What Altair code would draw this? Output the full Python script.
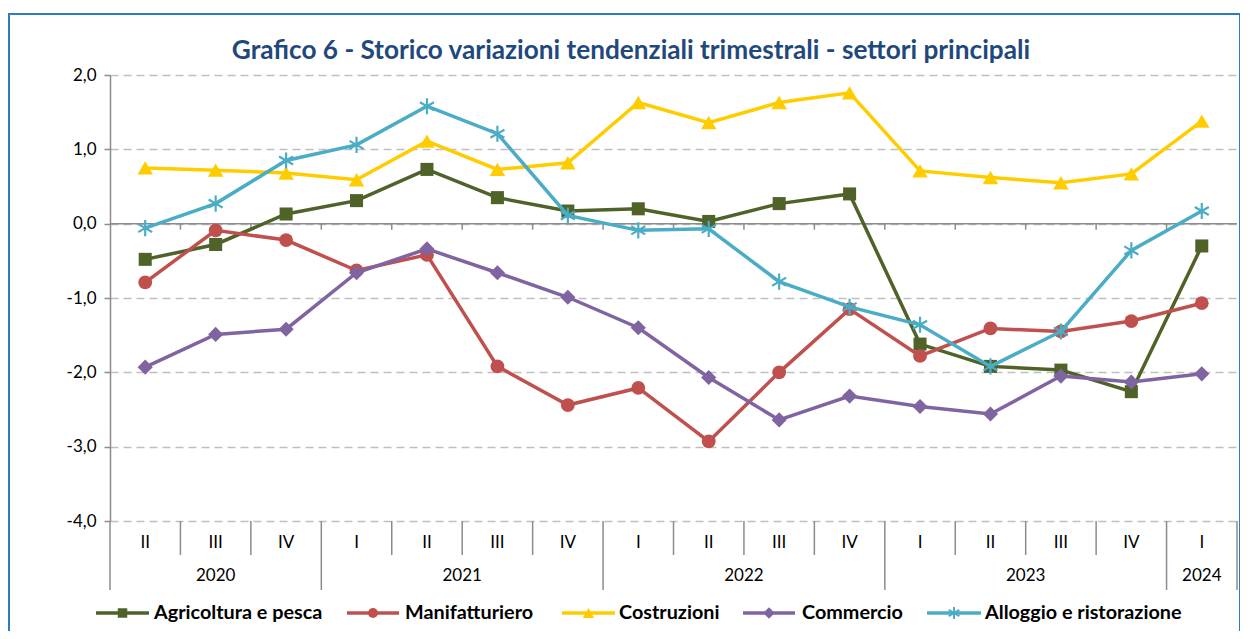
import altair as alt
import pandas as pd

# ---------------- data ----------------
quarters = ["II", "III", "IV", "I", "II", "III", "IV", "I", "II", "III", "IV", "I", "II", "III", "IV", "I"]
years = [2020, 2020, 2020, 2021, 2021, 2021, 2021, 2022, 2022, 2022, 2022, 2023, 2023, 2023, 2023, 2024]

series_names = ["Agricoltura e pesca", "Manifatturiero", "Costruzioni", "Commercio", "Alloggio e ristorazione"]
agricoltura = [-0.48, -0.28, 0.13, 0.31, 0.73, 0.35, 0.17, 0.20, 0.03, 0.27, 0.40, -1.62, -1.92, -1.97, -2.26, -0.30]
manifatturiero = [-0.79, -0.09, -0.22, -0.63, -0.42, -1.92, -2.44, -2.21, -2.93, -2.00, -1.15, -1.78, -1.41, -1.45, -1.31, -1.07]
costruzioni = [0.75, 0.72, 0.68, 0.59, 1.11, 0.73, 0.82, 1.63, 1.36, 1.63, 1.76, 0.71, 0.62, 0.55, 0.67, 1.38]
commercio = [-1.93, -1.49, -1.42, -0.66, -0.34, -0.66, -0.99, -1.40, -2.07, -2.64, -2.32, -2.46, -2.56, -2.05, -2.13, -2.02]
alloggio = [-0.06, 0.27, 0.85, 1.06, 1.58, 1.21, 0.11, -0.09, -0.07, -0.78, -1.12, -1.36, -1.92, -1.45, -0.36, 0.17]
series_values = [agricoltura, manifatturiero, costruzioni, commercio, alloggio]

title_text = "Grafico 6 - Storico variazioni tendenziali trimestrali - settori principali"
y_ticks = [-4, -3, -2, -1, 0, 1, 2]

# ---------------- styles ----------------
colors = ["#4F6228", "#C0504D", "#FFCC00", "#8064A2", "#4BACC6"]
ASTER = "M0,-1L0,1M-0.87,-0.5L0.87,0.5M-0.87,0.5L0.87,-0.5"
shapes = ["square", "circle", "triangle-up", "diamond", ASTER]
sizes = [170, 190, 240, 230, 260]
leg_sizes = [90, 100, 130, 130, 150]
FONT = "Lato"
W, H = 1127, 446
N = len(quarters)
AX = "#8C8C8C"

xscale = alt.Scale(domain=[0, N], nice=False, zero=False)
yscale = alt.Scale(domain=[-4, 2], nice=False, zero=False)
yaxis = alt.Axis(
    values=y_ticks,
    labelExpr="(datum.value < 0 ? '-' : '') + replace(format(abs(datum.value), '.1f'), '.', ',')",
    grid=True, gridDash=[8, 5], gridColor="#BFBFBF", gridWidth=1.5,
    domainColor=AX, domainWidth=1.5, tickColor=AX, tickSize=6, tickWidth=1.5,
    labelFont=FONT, labelFontSize=17, labelColor="black", labelPadding=8, title=None,
)


def X(f):
    return alt.X(f, type="quantitative", scale=xscale, axis=None)


def Y(f):
    return alt.Y(f, type="quantitative", scale=yscale, axis=yaxis)


one = pd.DataFrame({"a": [0]})
layers = []

# grid / axis carrier + zero line
zero_df = pd.DataFrame({"x": [0], "x2": [N], "v": [0]})
layers.append(alt.Chart(zero_df).mark_rule(color=AX, strokeWidth=1.5).encode(
    x=X("x"), x2="x2", y=Y("v")))

# small ticks on zero line
tick_df = pd.DataFrame({"x": list(range(1, N))})
layers.append(alt.Chart(tick_df).mark_rule(color=AX, strokeWidth=1.5).encode(
    x=X("x"), y=alt.value(H * 2 / 6), y2=alt.value(H * 2 / 6 + 6)))

# category separators (short between quarters, long between years)
bounds = []
for k in range(N + 1):
    long = k == 0 or k == N or years[k] != years[k - 1]
    bounds.append({"x": k, "long": long})
sep_df = pd.DataFrame(bounds)
layers.append(alt.Chart(sep_df).transform_filter("!datum.long").mark_rule(color=AX, strokeWidth=1.5).encode(
    x=X("x"), y=alt.value(H), y2=alt.value(H + 34)))
layers.append(alt.Chart(sep_df).transform_filter("datum.long").mark_rule(color=AX, strokeWidth=1.5).encode(
    x=X("x"), y=alt.value(H), y2=alt.value(H + 69)))

# quarter labels
q_df = pd.DataFrame({"pos": [i + 0.5 for i in range(N)], "q": quarters})
layers.append(alt.Chart(q_df).mark_text(font=FONT, fontSize=17, color="black", baseline="middle").encode(
    x=X("pos"), y=alt.value(H + 22), text="q:N"))

# year labels
yr = {}
for i, yv in enumerate(years):
    yr.setdefault(yv, []).append(i)
y_df = pd.DataFrame({"pos": [(min(v) + max(v) + 1) / 2 for v in yr.values()],
                     "yr": [str(k) for k in yr.keys()]})
layers.append(alt.Chart(y_df).mark_text(font=FONT, fontSize=17, color="black", baseline="middle").encode(
    x=X("pos"), y=alt.value(H + 55), text="yr:N"))

# series
for name, vals, c, shp, sz in zip(series_names, series_values, colors, shapes, sizes):
    df = pd.DataFrame({"pos": [i + 0.5 for i in range(N)], "value": vals, "serie": name})
    layers.append(alt.Chart(df).mark_line(color=c, strokeWidth=3.5).encode(x=X("pos"), y=Y("value")))
    if shp == ASTER:
        pm = alt.Chart(df).mark_point(shape=shp, filled=False, stroke=c, strokeWidth=2.2, size=sz, opacity=1)
    else:
        pm = alt.Chart(df).mark_point(shape=shp, filled=True, color=c, size=sz, opacity=1)
    layers.append(pm.encode(x=X("pos"), y=Y("value")))

# legend
leg_line = [(-14, 39), (237, 289), (452, 505), (633, 685), (817, 871)]
leg_text_x = [44, 295, 509, 692, 875]
LY = 538
for name, c, shp, sz, (a, b), tx in zip(series_names, colors, shapes, leg_sizes, leg_line, leg_text_x):
    layers.append(alt.Chart(one).mark_rule(color=c, strokeWidth=3.5).encode(
        x=alt.value(a), x2=alt.value(b), y=alt.value(LY)))
    if shp == ASTER:
        lp = alt.Chart(one).mark_point(shape=shp, filled=False, stroke=c, strokeWidth=2, size=sz, opacity=1)
    else:
        lp = alt.Chart(one).mark_point(shape=shp, filled=True, color=c, size=sz, opacity=1)
    layers.append(lp.encode(x=alt.value((a + b) / 2), y=alt.value(LY)))
    layers.append(alt.Chart(one).mark_text(font=FONT, fontSize=19.8, fontWeight="bold", color="black",
                                           align="left", baseline="middle").encode(
        x=alt.value(tx), y=alt.value(LY), text=alt.value(name)))

# title
layers.append(alt.Chart(one).mark_text(font=FONT, fontSize=26.2, fontWeight="bold", color="#1F497D",
                                       align="center", baseline="middle").encode(
    x=alt.value(521), y=alt.value(-24), text=alt.value(title_text)))

# outer border
layers.append(alt.Chart(one).mark_rect(filled=False, stroke="#2E7BC4", strokeWidth=2).encode(
    x=alt.value(-101), x2=alt.value(1130), y=alt.value(-61), y2=alt.value(600)))

chart = alt.layer(*layers).properties(
    width=W, height=H,
    autosize=alt.AutoSizeParams(type="none"),
    padding={"left": 102, "top": 67, "right": 3, "bottom": 110},
).configure_view(stroke=None)

chart.save("out.html", embed_options={"renderer": "svg", "actions": False})
